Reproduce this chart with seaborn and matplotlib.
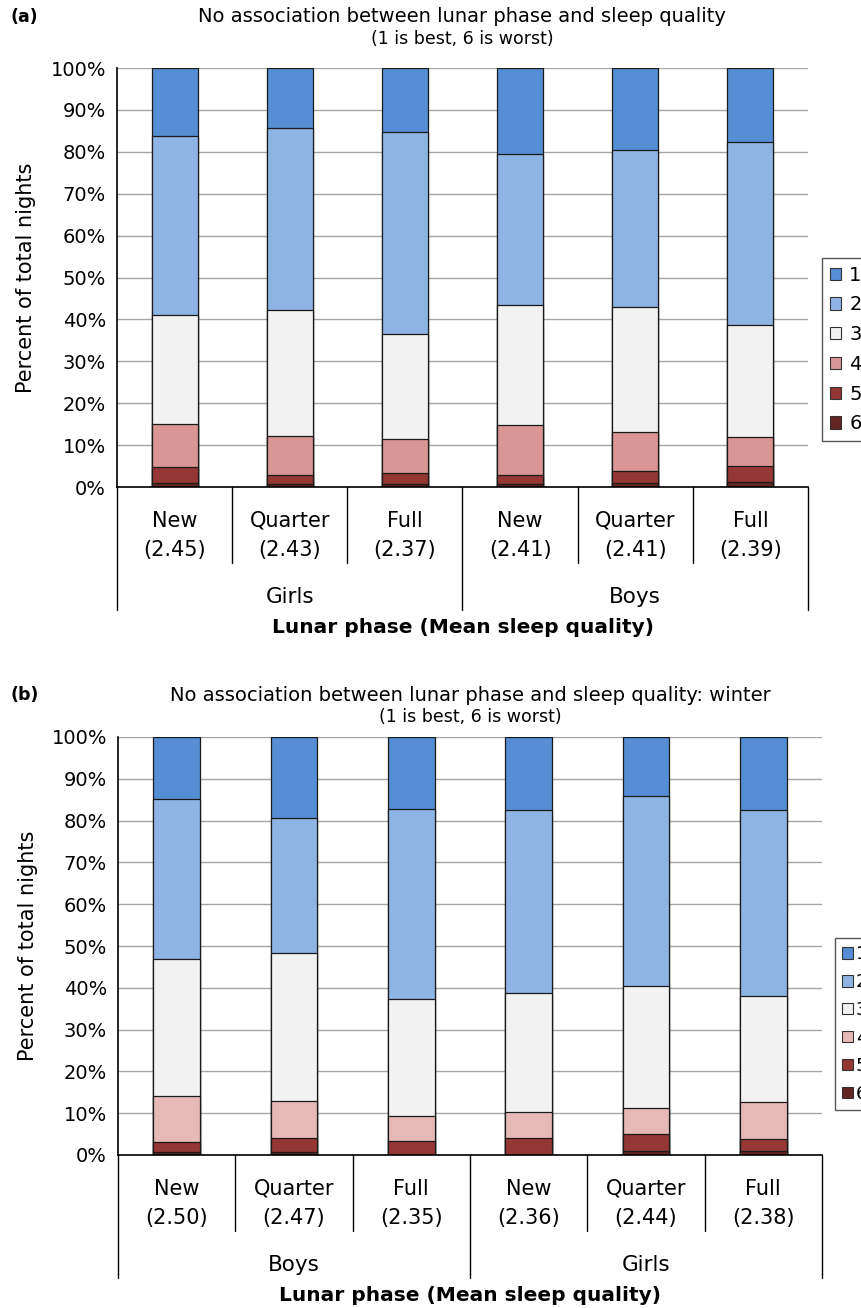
import matplotlib
matplotlib.use("Agg")
from matplotlib import pyplot as plt
from matplotlib.patches import Patch
import seaborn as sns
import pandas as pd
import numpy as np

# ratings 1 (best) .. 6 (worst), percent of nights per bar
ratings = ["1", "2", "3", "4", "5", "6"]
phases = ["New", "Quarter", "Full"]

a_groups = ["Girls", "Boys"]
a_means = ["2.45", "2.43", "2.37", "2.41", "2.41", "2.39"]
a_r1 = [16.2, 14.3, 15.3, 20.5, 19.6, 17.7]
a_r2 = [42.8, 43.5, 48.2, 36.1, 37.4, 43.6]
a_r3 = [26.0, 30.0, 25.0, 28.6, 29.9, 26.8]
a_r4 = [10.3, 9.3, 8.1, 11.9, 9.4, 7.0]
a_r5 = [3.8, 2.3, 2.8, 2.2, 2.7, 3.8]
a_r6 = [0.9, 0.6, 0.6, 0.7, 1.0, 1.1]

b_groups = ["Boys", "Girls"]
b_means = ["2.50", "2.47", "2.35", "2.36", "2.44", "2.38"]
b_r1 = [14.8, 19.4, 17.2, 17.5, 14.1, 17.5]
b_r2 = [38.3, 32.3, 45.5, 43.7, 45.5, 44.5]
b_r3 = [32.8, 35.4, 28.0, 28.5, 29.2, 25.3]
b_r4 = [11.1, 8.8, 6.0, 6.2, 6.2, 8.9]
b_r5 = [2.3, 3.4, 3.2, 4.0, 4.1, 2.8]
b_r6 = [0.7, 0.7, 0.1, 0.1, 0.9, 1.0]

colors_a = ["#558ed5", "#8eb4e3", "#f2f2f2", "#d99694", "#953735", "#632523"]
colors_b = ["#558ed5", "#8eb4e3", "#f2f2f2", "#e6b9b8", "#953735", "#632523"]

W, H = 861, 1308


def fx(x):
    return x / W


def fy(y):
    return 1 - y / H


def draw_panel(ax, groups, means, series, colors, legend_box, legend_fs, text_pad):
    bars = [f"{g} {p}" for g in groups for p in phases]
    df = pd.DataFrame({"bar": bars})
    for r, vals in zip(ratings, series):
        df["r" + r] = vals
    # cumulative from the bottom (rating 6) upward; draw tallest first
    cols = ["r" + r for r in ratings]
    for i, r in enumerate(ratings):
        df["cum" + r] = df[cols[i:]].sum(axis=1)
    for i, r in enumerate(ratings):
        sns.barplot(data=df, x="bar", y="cum" + r, order=bars, color=colors[i],
                    saturation=1, width=0.4, edgecolor="#1a1a1a", linewidth=0.9,
                    errorbar=None, ax=ax, zorder=2)

    ax.set_xlim(-0.5, 5.5)
    ax.set_ylim(0, 100)
    ax.set_yticks(np.arange(0, 101, 10))
    ax.set_yticklabels([f"{v}%" for v in range(0, 101, 10)], fontsize=14)
    ax.yaxis.grid(True, color="#a6a6a6", linewidth=1)
    ax.xaxis.grid(False)
    ax.set_axisbelow(True)
    ax.tick_params(axis="y", length=5, width=1, color="black", labelcolor="black", pad=3)
    ax.set_xticks([])
    ax.set_xlabel("")
    ax.set_ylabel("Percent of total nights", fontsize=15, labelpad=10, color="black")
    for s in ["top", "right"]:
        ax.spines[s].set_visible(False)
    for s in ["left", "bottom"]:
        ax.spines[s].set_color("black")
        ax.spines[s].set_linewidth(1.2)

    tr = ax.get_xaxis_transform()
    for k in range(7):
        x = k - 0.5
        bottom = -0.294 if k in (0, 3, 6) else -0.182
        ax.plot([x, x], [0, bottom], transform=tr, color="black", lw=1, clip_on=False)
    for k in range(6):
        ax.text(k, -0.081, phases[k % 3], transform=tr, ha="center", va="center", fontsize=15)
        ax.text(k, -0.150, f"({means[k]})", transform=tr, ha="center", va="center", fontsize=15)
    for j, g in enumerate(groups):
        ax.text(1 + 3 * j, -0.262, g, transform=tr, ha="center", va="center", fontsize=15.5)
    ax.text(0.5, -0.336, "Lunar phase (Mean sleep quality)", transform=ax.transAxes,
            ha="center", va="center", fontsize=14.5, fontweight="bold")

    handles = [Patch(facecolor=c, edgecolor="#333333", linewidth=0.8) for c in colors]
    leg = ax.legend(handles, ratings, loc="upper left", bbox_to_anchor=legend_box,
                    bbox_transform=ax.figure.transFigure, borderaxespad=0,
                    fontsize=legend_fs, handlelength=0.6, handleheight=0.6,
                    handletextpad=text_pad, labelspacing=0.55, borderpad=0.4,
                    fancybox=False, framealpha=1, edgecolor="#555555")
    leg.get_frame().set_linewidth(1)


sns.set_theme(style="white")
plt.rcParams["font.family"] = ["DejaVu Sans"]
plt.rcParams["text.color"] = "black"
plt.rcParams["axes.labelcolor"] = "black"

fig = plt.figure(figsize=(W / 100, H / 100), dpi=100)
ax_a = fig.add_axes([fx(117), fy(487), fx(808) - fx(117), fy(68) - fy(487)])
ax_b = fig.add_axes([fx(118), fy(1155), fx(822) - fx(118), fy(737) - fy(1155)])

draw_panel(ax_a, a_groups, a_means, [a_r1, a_r2, a_r3, a_r4, a_r5, a_r6], colors_a,
           (fx(822), fy(258)), 14, 0.4)
draw_panel(ax_b, b_groups, b_means, [b_r1, b_r2, b_r3, b_r4, b_r5, b_r6], colors_b,
           (fx(835), fy(938)), 13, 0.15)

fig.text(fx(10), fy(17), "(a)", fontsize=12.5, fontweight="bold", ha="left", va="center")
fig.text(fx(462), fy(17), "No association between lunar phase and sleep quality",
         fontsize=14, ha="center", va="center")
fig.text(fx(462), fy(39), "(1 is best, 6 is worst)", fontsize=12.5, ha="center", va="center")

fig.text(fx(10), fy(695), "(b)", fontsize=12.5, fontweight="bold", ha="left", va="center")
fig.text(fx(470), fy(695), "No association between lunar phase and sleep quality: winter",
         fontsize=14, ha="center", va="center")
fig.text(fx(470), fy(717), "(1 is best, 6 is worst)", fontsize=12.5, ha="center", va="center")

fig.savefig("out.png", dpi=100)
